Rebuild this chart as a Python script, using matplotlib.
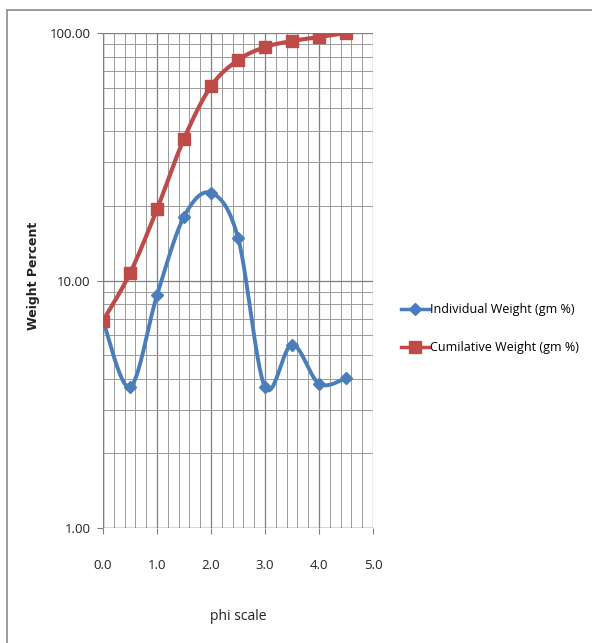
import numpy as np
import matplotlib
matplotlib.use("Agg")
import matplotlib.pyplot as plt
from matplotlib.ticker import FixedLocator, NullFormatter, FuncFormatter
from matplotlib.lines import Line2D
from matplotlib.patches import Rectangle

phi = [0.0, 0.5, 1.0, 1.5, 2.0, 2.5, 3.0, 3.5, 4.0, 4.5]
individual = [6.88, 3.71, 8.72, 18.1, 22.6, 14.9, 3.71, 5.51, 3.83, 4.03]
cumulative = [6.88, 10.7, 19.4, 37.4, 60.9, 77.7, 87.7, 92.8, 96.3, 100.0]
x_ticks = [0.0, 1.0, 2.0, 3.0, 4.0, 5.0]
y_ticks = [1, 10, 100]
series_names = ["Individual Weight (gm %)", "Cumilative Weight (gm %)"]

BLUE = "#4A7EBB"
RED = "#BE4B48"


def smooth(xs, ys, n=30):
    """Excel-style smoothed path (Catmull-Rom Bezier) in x / log10(y) space."""
    x = np.asarray(xs, float)
    y = np.log10(np.asarray(ys, float))
    P = np.column_stack([x, y])
    out = []
    for i in range(len(P) - 1):
        p0 = P[i - 1] if i > 0 else P[i]
        p1 = P[i]
        p2 = P[i + 1]
        p3 = P[i + 2] if i + 2 < len(P) else P[i + 1]
        c1 = p1 + (p2 - p0) / 6.0
        c2 = p2 - (p3 - p1) / 6.0
        t = np.linspace(0, 1, n)[:, None]
        seg = ((1 - t) ** 3) * p1 + 3 * ((1 - t) ** 2) * t * c1 + 3 * (1 - t) * t ** 2 * c2 + t ** 3 * p2
        out.append(seg if i == 0 else seg[1:])
    s = np.vstack(out)
    return s[:, 0], 10 ** s[:, 1]


fig = plt.figure(figsize=(5.92, 6.43), dpi=100)
fig.patch.set_facecolor("white")
fig.patches.append(Rectangle((7 / 592, -0.1), 1.2, 1 - 10 / 643 + 0.1, transform=fig.transFigure,
                             fill=False, edgecolor="#8c8c8c", linewidth=1.2))

ax = fig.add_axes([103 / 592, 1 - 528 / 643, 270 / 592, (528 - 33) / 643])
ax.set_yscale("log")
ax.set_xlim(0, 5)
ax.set_ylim(1, 100)

for s in ax.spines.values():
    s.set_visible(False)

ax.xaxis.set_major_locator(FixedLocator(x_ticks))
ax.xaxis.set_minor_locator(FixedLocator(np.arange(0, 5.01, 0.2)))
ax.yaxis.set_major_locator(FixedLocator(y_ticks))
minors = [m * 10 ** d for d in range(0, 2) for m in range(2, 10)]
ax.yaxis.set_minor_locator(FixedLocator(minors))
ax.yaxis.set_minor_formatter(NullFormatter())
ax.yaxis.set_major_formatter(FuncFormatter(lambda v, p: f"{v:.2f}"))
ax.xaxis.set_major_formatter(FuncFormatter(lambda v, p: f"{v:.1f}"))

ax.grid(True, which="major", color="#7f7f7f", linewidth=0.9)
ax.grid(True, which="minor", color="#9a9a9a", linewidth=0.7)
ax.set_axisbelow(True)

ax.tick_params(axis="both", which="major", length=4, color="#7f7f7f", labelsize=9.5, labelcolor="#222222")
ax.tick_params(axis="x", which="major", pad=18, direction="out")
ax.tick_params(axis="y", which="major", pad=5)
ax.tick_params(axis="both", which="minor", length=0)
for lab in ax.get_xticklabels() + ax.get_yticklabels():
    lab.set_family("Open Sans")

# left axis line and bottom axis line in gray
ax.axvline(0, color="#7f7f7f", linewidth=1.0, zorder=1)
ax.axhline(1, color="#7f7f7f", linewidth=1.0, zorder=1)

xs, ys = smooth(phi, individual)
ax.plot(xs, ys, color=BLUE, linewidth=2.8, zorder=3, solid_capstyle="round")
ax.plot(phi, individual, linestyle="none", marker="D", markersize=6.5, color=BLUE, zorder=4)

xs, ys = smooth(phi, cumulative)
ax.plot(xs, ys, color=RED, linewidth=3.0, zorder=5, solid_capstyle="round")
ax.plot(phi, cumulative, linestyle="none", marker="s", markersize=8.5, color=RED, zorder=6)

ax.set_xlabel("phi scale", fontsize=10, family="Open Sans", color="#222222")
ax.xaxis.set_label_coords(0.5, -0.163)
ax.set_ylabel("Weight Percent", fontsize=9, fontweight="bold", family="DejaVu Sans", color="#222222")
ax.yaxis.set_label_coords(-0.235, 0.51)

handles = [
    Line2D([0], [0], color=BLUE, linewidth=2.5, marker="D", markersize=6),
    Line2D([0], [0], color=RED, linewidth=2.5, marker="s", markersize=8),
]
fig.legend(handles, series_names, loc="center left", bbox_to_anchor=(390 / 592, 1 - 329 / 643),
           frameon=False, handlelength=2.2, handletextpad=0.1, labelspacing=2.0,
           prop={"family": "Open Sans", "size": 9})

fig.savefig("out.png", dpi=100, facecolor="white")
